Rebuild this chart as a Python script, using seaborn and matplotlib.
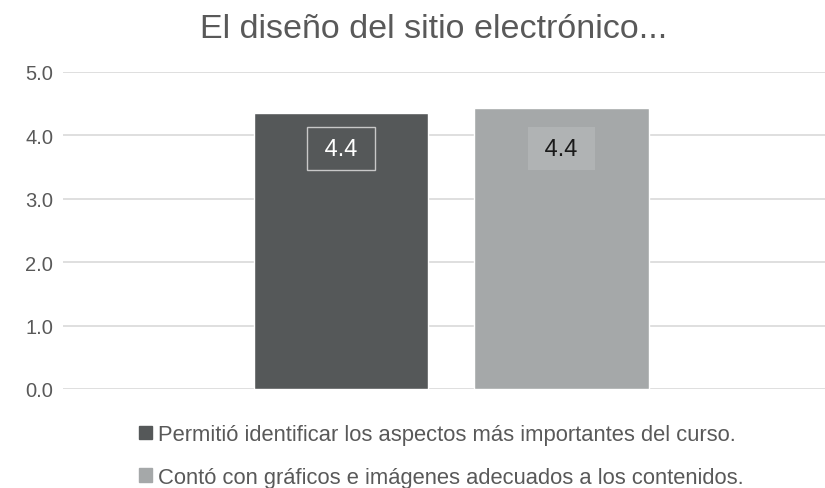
import matplotlib
matplotlib.use("Agg")
import matplotlib.pyplot as plt
import matplotlib.patches as mpatches
import seaborn as sns
import pandas as pd

title = "El diseño del sitio electrónico..."
series = ["Permitió identificar los aspectos más importantes del curso.",
          "Contó con gráficos e imágenes adecuados a los contenidos."]
values = [4.35, 4.43]
labels = ["4.4", "4.4"]
colors = ["#555859", "#a5a8a9"]

sns.set_theme(style="white")
plt.rcParams['font.family'] = ['Liberation Sans', 'DejaVu Sans']

df = pd.DataFrame({"serie": series, "valor": values})

fig = plt.figure(figsize=(8.25, 4.89), dpi=100)
ax = fig.add_axes([63/825, 1-390/489, 1-63/825, (390-73)/489])

sns.barplot(data=df, x="serie", y="valor", hue="serie", palette=colors,
            width=0.79, ax=ax, legend=False, saturation=1)

ax.set_ylim(0, 5)
ax.set_xlim(-1.26, 2.195)
ax.set_yticks([0, 1, 2, 3, 4, 5])
ax.set_yticklabels([f"{v:.1f}" for v in range(6)], fontsize=14.5, color="#595959")
ax.set_xticks([])
ax.set_xlabel("")
ax.set_ylabel("")
ax.yaxis.grid(True, color="#d9d9d9", linewidth=1.2)
ax.set_axisbelow(True)
for s in ax.spines.values():
    s.set_visible(False)
ax.tick_params(axis="y", length=0, pad=7)

box_styles = [dict(boxstyle="square,pad=0.45", fc=colors[0], ec="#c8c8c8", lw=1),
              dict(boxstyle="square,pad=0.45", fc="#b0b3b4", ec="none")]
text_colors = ["white", "#1a1a1a"]
for i, (v, lab) in enumerate(zip(values, labels)):
    ax.text(i, 3.79, " " + lab + " ", ha="center", va="center", fontsize=17,
            color=text_colors[i], bbox=box_styles[i])

fig.text(0.525, 0.94, title, ha="center", va="center", fontsize=24.5, color="#595959")

handles = [mpatches.Patch(color=c, label=s) for c, s in zip(colors, series)]
fig.legend(handles=handles, loc="center", bbox_to_anchor=(0.535, 0.065), ncol=1,
           frameon=False, fontsize=15.8, labelcolor="#595959",
           handlelength=0.6, handleheight=0.6, handletextpad=0.3, labelspacing=1.0)

fig.savefig("out.png", dpi=100)
